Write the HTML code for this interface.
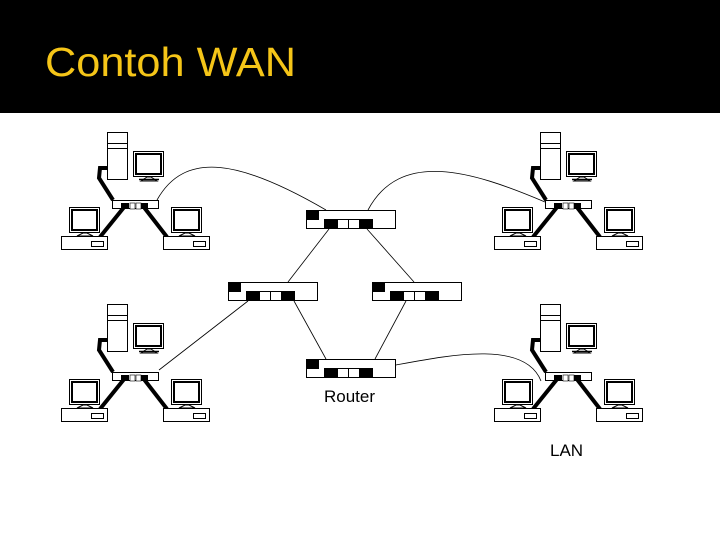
<!DOCTYPE html>
<html><head><style>
html,body{margin:0;padding:0;background:#fff;}
svg{display:block;}
</style></head><body>
<svg width="720" height="540" viewBox="0 0 720 540" xmlns="http://www.w3.org/2000/svg">
<defs>
<g id="lan">
  <!-- tower -->
  <rect x="107.5" y="132.5" width="20" height="47" fill="#fff" stroke="#000"/>
  <line x1="107" y1="143.5" x2="128" y2="143.5" stroke="#000"/>
  <line x1="107" y1="148.5" x2="128" y2="148.5" stroke="#000"/>
  <!-- monitor -->
  <rect x="133.5" y="151.5" width="30" height="25" fill="#fff" stroke="#000"/>
  <rect x="136" y="154" width="25" height="20" fill="#fff" stroke="#000" stroke-width="2"/>
  <polygon points="141,181 147,177 151,177 157,181" fill="#fff" stroke="#000"/>
  <line x1="139" y1="179.5" x2="159" y2="179.5" stroke="#000" stroke-width="1.5"/>
  <!-- cables -->
  <path d="M108,168 L100,168 L99,178 L113,200" fill="none" stroke="#000" stroke-width="4"/>
  <line x1="125" y1="206" x2="100" y2="237" stroke="#000" stroke-width="4"/>
  <line x1="143" y1="206" x2="167" y2="237" stroke="#000" stroke-width="4"/>
  <!-- hub -->
  <rect x="112.5" y="200.5" width="46" height="8" fill="#fff" stroke="#000"/>
  <rect x="121" y="203" width="8" height="6" fill="#000"/>
  <rect x="130" y="203" width="5" height="6" fill="#fff" stroke="#000" stroke-width="0.6"/>
  <rect x="136" y="203" width="5" height="6" fill="#fff" stroke="#000" stroke-width="0.6"/>
  <rect x="141" y="203" width="7" height="6" fill="#000"/>
  <!-- left pc -->
  <rect x="69.5" y="207.5" width="30" height="25" fill="#fff" stroke="#000"/>
  <rect x="72" y="210" width="25" height="20" fill="#fff" stroke="#000" stroke-width="2"/>
  <polygon points="77,236 83,233 87,233 93,236" fill="#fff" stroke="#000"/>
  <rect x="61.5" y="236.5" width="46" height="13" fill="#fff" stroke="#000"/>
  <rect x="91.5" y="241.5" width="12" height="5" fill="#fff" stroke="#000"/>
  <!-- right pc -->
  <rect x="171.5" y="207.5" width="30" height="25" fill="#fff" stroke="#000"/>
  <rect x="174" y="210" width="25" height="20" fill="#fff" stroke="#000" stroke-width="2"/>
  <polygon points="179,236 185,233 189,233 195,236" fill="#fff" stroke="#000"/>
  <rect x="163.5" y="236.5" width="46" height="13" fill="#fff" stroke="#000"/>
  <rect x="193.5" y="241.5" width="12" height="5" fill="#fff" stroke="#000"/>
</g>
<g id="router">
  <rect x="0.5" y="0.5" width="89" height="18" fill="#fff" stroke="#000"/>
  <rect x="0" y="0" width="13" height="10" fill="#000"/>
  <rect x="18" y="9" width="13" height="10" fill="#000"/>
  <rect x="31.5" y="9.5" width="11" height="9" fill="#fff" stroke="#000"/>
  <rect x="42.5" y="9.5" width="11" height="9" fill="#fff" stroke="#000"/>
  <rect x="54" y="9" width="13" height="10" fill="#000"/>
</g>
</defs>
<rect x="0" y="0" width="720" height="113" fill="#000"/>
<text x="45" y="76" font-family="Liberation Sans, sans-serif" font-size="41" fill="#f5c518" textLength="251" lengthAdjust="spacingAndGlyphs">Contoh WAN</text>

<g fill="none" stroke="#000" stroke-width="0.8">
  <path d="M157,200 C185,150 240,160 326,210"/>
  <path d="M368,210 C400,150 470,170 545,202"/>
  <line x1="329" y1="229" x2="288" y2="282"/>
  <line x1="367" y1="229" x2="414" y2="282"/>
  <line x1="248" y1="301" x2="159" y2="370"/>
  <line x1="294" y1="301" x2="326" y2="359"/>
  <line x1="406" y1="301" x2="375" y2="359"/>
  <path d="M396,365 C450,355 525,340 541,381"/>
</g>

<use href="#lan"/>
<use href="#lan" transform="translate(433,0)"/>
<use href="#lan" transform="translate(0,172)"/>
<use href="#lan" transform="translate(433,172)"/>

<use href="#router" transform="translate(306,210)"/>
<use href="#router" transform="translate(228,282)"/>
<use href="#router" transform="translate(372,282)"/>
<use href="#router" transform="translate(306,359)"/>

<text x="324" y="402" font-family="Liberation Sans, sans-serif" font-size="17" fill="#000">Router</text>
<text x="550" y="456" font-family="Liberation Sans, sans-serif" font-size="17" fill="#000">LAN</text>
</svg>
</body></html>
